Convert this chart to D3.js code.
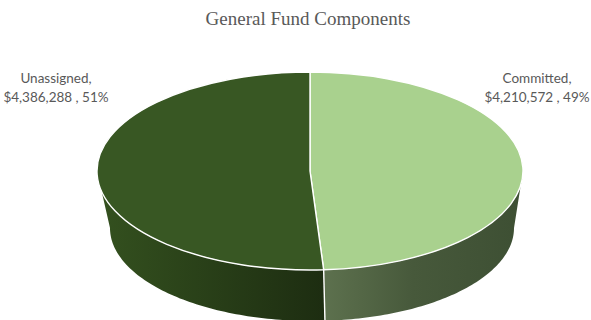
<!DOCTYPE html>
<html>
<head>
<meta charset="utf-8">
<script src="https://cdn.jsdelivr.net/npm/d3@7"></script>
<style>
  html, body { margin: 0; padding: 0; background: #fff; }
  svg { display: block; }
</style>
</head>
<body>
<svg id="chart" width="591" height="320"></svg>
<script>
// General fund components (dollars)
const categories = ["Committed", "Unassigned"];
const amounts = [4210572, 4386288];
const percentLabels = ["49%", "51%"];
const chartTitle = "General Fund Components";

const svg = d3.select("#chart");

// Elliptical top face and a slightly narrower, lower base (perspective)
const topFace = { cx: 310, cy: 171, rx: 213, ry: 99 };
const baseFace = { cx: 312, cy: 228, rx: 202, ry: 93 };

const topColors = { Committed: "#a9d18e", Unassigned: "#385723" };
const sideStops = {
  Committed: [["0%", "#5d714e"], ["45%", "#47593b"], ["100%", "#3d4f33"]],
  Unassigned: [["0%", "#34511f"], ["100%", "#1d2d11"]]
};

const pie = d3.pie().sort(null).value(d => d.value);
const arcs = pie(categories.map((c, i) => ({ name: c, value: amounts[i], pct: percentLabels[i] })));

const pt = (e, a) => [e.cx + e.rx * Math.sin(a), e.cy - e.ry * Math.cos(a)];

// Side gradients, running left to right across each visible wall
const defs = svg.append("defs");
arcs.forEach(d => {
  const s = Math.max(d.startAngle, Math.PI / 2);
  const e = Math.min(d.endAngle, 3 * Math.PI / 2);
  const xs = [pt(topFace, s)[0], pt(topFace, e)[0]];
  const g = defs.append("linearGradient")
    .attr("id", "side-" + d.data.name)
    .attr("gradientUnits", "userSpaceOnUse")
    .attr("x1", d3.min(xs)).attr("x2", d3.max(xs))
    .attr("y1", 0).attr("y2", 0);
  sideStops[d.data.name].forEach(([o, c]) => g.append("stop").attr("offset", o).attr("stop-color", c));
});

const line = d3.line();

// Visible (front) wall of each slice
const sides = svg.append("g");
arcs.forEach(d => {
  const s = Math.max(d.startAngle, Math.PI / 2);
  const e = Math.min(d.endAngle, 3 * Math.PI / 2);
  if (e <= s) return;
  const n = 80;
  const angles = d3.range(n + 1).map(i => s + (e - s) * i / n);
  const pts = angles.map(a => pt(topFace, a)).concat(angles.slice().reverse().map(a => pt(baseFace, a)));
  sides.append("path")
    .attr("d", line(pts) + "Z")
    .attr("fill", `url(#side-${d.data.name})`)
    .attr("stroke", "none");
});

// White seams where walls meet at slice boundaries facing the viewer
arcs.forEach(d => {
  const a = d.startAngle;
  if (a > Math.PI / 2 && a < 3 * Math.PI / 2) {
    sides.append("path")
      .attr("d", line([pt(topFace, a), pt(baseFace, a)]))
      .attr("stroke", "#ffffff")
      .attr("stroke-width", 1.4)
      .attr("fill", "none");
  }
});

// Top face: d3.arc drawn as a circle, squashed into an ellipse
const arc = d3.arc().innerRadius(0).outerRadius(topFace.rx);
svg.append("g")
  .attr("transform", `translate(${topFace.cx},${topFace.cy}) scale(1,${topFace.ry / topFace.rx})`)
  .selectAll("path")
  .data(arcs)
  .join("path")
  .attr("d", arc)
  .attr("fill", d => topColors[d.data.name])
  .attr("stroke", "#ffffff")
  .attr("stroke-width", 1.4)
  .attr("stroke-linejoin", "round")
  .attr("vector-effect", "non-scaling-stroke");

// Title
svg.append("text")
  .attr("x", 308).attr("y", 25)
  .attr("text-anchor", "middle")
  .attr("font-family", "'Liberation Serif', 'Times New Roman', serif")
  .attr("font-size", 19)
  .attr("fill", "#595959")
  .text(chartTitle);

// Data labels
const fmt = d3.format("$,");
const labelPos = { Committed: [537, 83], Unassigned: [56, 83] };
const labels = svg.append("g")
  .attr("font-family", "Lato, 'Open Sans', sans-serif")
  .attr("font-size", 13.5)
  .attr("fill", "#595959")
  .attr("text-anchor", "middle");
arcs.forEach(d => {
  const [x, y] = labelPos[d.data.name];
  const t = labels.append("text").attr("x", x).attr("y", y);
  t.append("tspan").attr("x", x).attr("dy", 0).text(d.data.name + ",");
  t.append("tspan").attr("x", x).attr("dy", 18.5).text(fmt(d.data.value) + " , " + d.data.pct);
});
</script>
</body>
</html>
